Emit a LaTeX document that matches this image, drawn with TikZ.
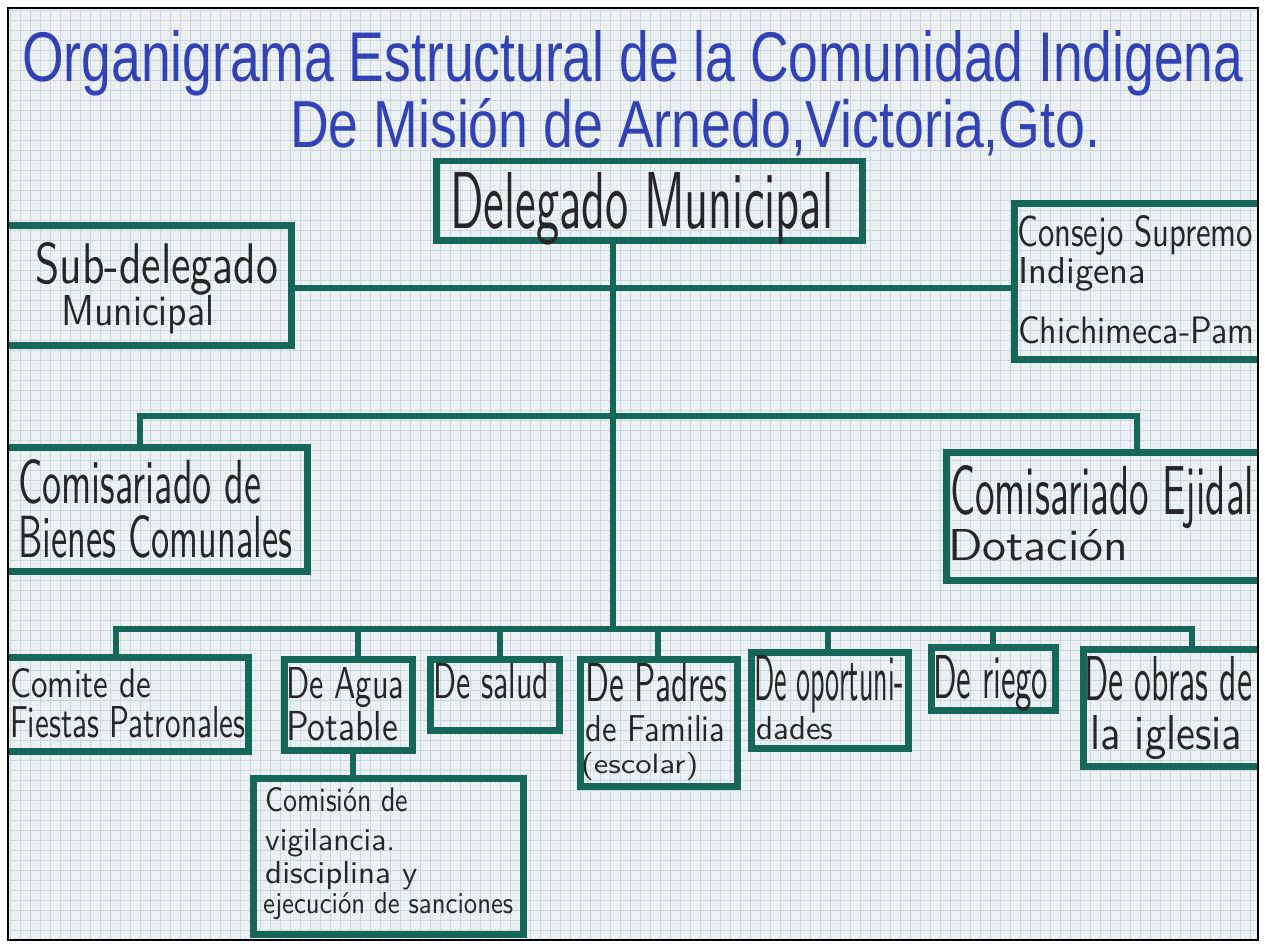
\documentclass[tikz,border=0pt]{standalone}
\usepackage{fontspec}
\setmainfont{Liberation Sans}
\usepackage{graphicx}
\definecolor{ink}{HTML}{17665A}
\definecolor{pen}{HTML}{262626}
\definecolor{blueink}{HTML}{3242B4}
\definecolor{paper}{HTML}{EBF1F2}
\definecolor{gridc}{HTML}{CBD7DC}
\newcommand{\hw}[3]{\resizebox{#1pt}{#2pt}{#3}}
\begin{document}
\begin{tikzpicture}[x=1pt,y=-1pt,
  orgbox/.style={draw=ink, line width=6.5pt, inner sep=0pt, anchor=north west},
  wire/.style={draw=ink, line width=6.5pt, line cap=rect, line join=miter},
  lbl/.style={inner sep=0pt, anchor=base west, text=pen, font=\sffamily},
  ttl/.style={inner sep=0pt, anchor=base west, text=blueink}]
\useasboundingbox (0,0) rectangle (1265,944);
\fill[white] (0,0) rectangle (1265,944);
\begin{scope}
\clip (8,8) rectangle (1258,940);
\fill[paper] (8,8) rectangle (1258,940);
\draw[gridc, line width=0.5pt, step=10pt] (0,0) grid (1265,944);

% title
\node[ttl] (tt1) at (22,82) {\hw{1221}{51}{Organigrama Estructural de la Comunidad Indigena}};
\node[ttl] (tt2) at (290,148) {\hw{810}{49}{De Misión de Arnedo,Victoria,Gto.}};

% boxes
\node[orgbox, minimum width=426pt, minimum height=79pt] (del) at (433,158) {};
\node[orgbox, minimum width=308pt, minimum height=120pt] (sub) at (-20,222) {};
\node[orgbox, minimum width=279pt, minimum height=156pt] (con) at (1011,200) {};
\node[orgbox, minimum width=324pt, minimum height=124pt] (bie) at (-20,444) {};
\node[orgbox, minimum width=347pt, minimum height=128pt] (eji) at (943,449) {};
\node[orgbox, minimum width=265pt, minimum height=94pt] (com) at (-20,654) {};
\node[orgbox, minimum width=128pt, minimum height=91pt] (agu) at (281,656) {};
\node[orgbox, minimum width=129pt, minimum height=71pt] (sal) at (427,656) {};
\node[orgbox, minimum width=157pt, minimum height=127pt] (pad) at (577,656) {};
\node[orgbox, minimum width=157pt, minimum height=96pt] (opo) at (748,649) {};
\node[orgbox, minimum width=124pt, minimum height=63pt] (rie) at (928,644) {};
\node[orgbox, minimum width=210pt, minimum height=117pt] (obr) at (1080,646) {};
\node[orgbox, minimum width=270pt, minimum height=156pt] (cms) at (250,775) {};

% junction coordinates
\coordinate (j1) at (613,288);
\coordinate (j3) at (613,629);
\coordinate (b2l) at (140,416);
\coordinate (b2r) at (1137,416);
\coordinate (b3l) at (116,629);
\coordinate (b3r) at (1192,629);
\coordinate (d2) at (358,629);
\coordinate (d3) at (500,629);
\coordinate (d4) at (658,629);
\coordinate (d5) at (828,629);
\coordinate (d6) at (993,629);
\coordinate (d8) at (353,700);

% connectors
\draw[wire] (sub.east |- j1) -- (con.west |- j1);
\draw[wire] (j1 |- del.south) -- (j3);
\draw[wire] (b2l |- bie.north) -- (b2l) -- (b2r) -- (b2r |- eji.north);
\draw[wire] (b3l |- com.north) -- (b3l) -- (b3r) -- (b3r |- obr.north);
\draw[wire] (d2) -- (d2 |- agu.north);
\draw[wire] (d3) -- (d3 |- sal.north);
\draw[wire] (d4) -- (d4 |- pad.north);
\draw[wire] (d5) -- (d5 |- opo.north);
\draw[wire] (d6) -- (d6 |- rie.north);
\draw[wire] (d8 |- agu.south) -- (d8 |- cms.north);

% labels
\node[lbl] (tdel) at (450,228) {\hw{383}{56}{Delegado Municipal}};
\node[lbl] (tsub1) at (35,283) {\hw{243}{41}{Sub-delegado}};
\node[lbl] (tsub2) at (61,325) {\hw{153}{30}{Municipal}};
\node[lbl] (tcon1) at (1017,246) {\hw{236}{31}{Consejo Supremo}};
\node[lbl] (tcon2) at (1018,283) {\hw{128}{26}{Indigena}};
\node[lbl] (tcon3) at (1018,343) {\hw{236}{27}{Chichimeca-Pam}};
\node[lbl] (tbie1) at (18,503) {\hw{243}{44}{Comisariado de}};
\node[lbl] (tbie2) at (18,557) {\hw{274}{42}{Bienes Comunales}};
\node[lbl] (teji1) at (950,514) {\hw{304}{49}{Comisariado Ejidal}};
\node[lbl] (teji2) at (948,560) {\hw{180}{31}{Dotación}};
\node[lbl] (tcom1) at (10,697) {\hw{141}{29}{Comite de}};
\node[lbl] (tcom2) at (10,737) {\hw{235}{31}{Fiestas Patronales}};
\node[lbl] (tagu1) at (286,698) {\hw{118}{31}{De Agua}};
\node[lbl] (tagu2) at (286,740) {\hw{112}{29}{Potable}};
\node[lbl] (tsal) at (433,698) {\hw{116}{35}{De salud}};
\node[lbl] (tpad1) at (585,701) {\hw{142}{38}{De Padres}};
\node[lbl] (tpad2) at (585,741) {\hw{140}{26}{de Familia}};
\node[lbl] (tpad3) at (581,773) {\hw{117}{21}{(escolar)}};
\node[lbl] (topo1) at (754,700) {\hw{150}{45}{De oportuni-}};
\node[lbl] (topo2) at (756,739) {\hw{77}{23}{dades}};
\node[lbl] (trie) at (933,698) {\hw{115}{43}{De riego}};
\node[lbl] (tobr1) at (1084,700) {\hw{168}{44}{De obras de}};
\node[lbl] (tobr2) at (1090,749) {\hw{152}{34}{la iglesia}};
\node[lbl] (tcms1) at (265,811) {\hw{143}{24}{Comisión de}};
\node[lbl] (tcms2) at (265,850) {\hw{130}{22}{vigilancia.}};
\node[lbl] (tcms3) at (265,883) {\hw{152}{22}{disciplina y}};
\node[lbl] (tcms4) at (263,913) {\hw{250}{21}{ejecución de sanciones}};
\end{scope}
\draw[black, line width=2.5pt] (8,8) rectangle (1258,940);
\end{tikzpicture}
\end{document}
